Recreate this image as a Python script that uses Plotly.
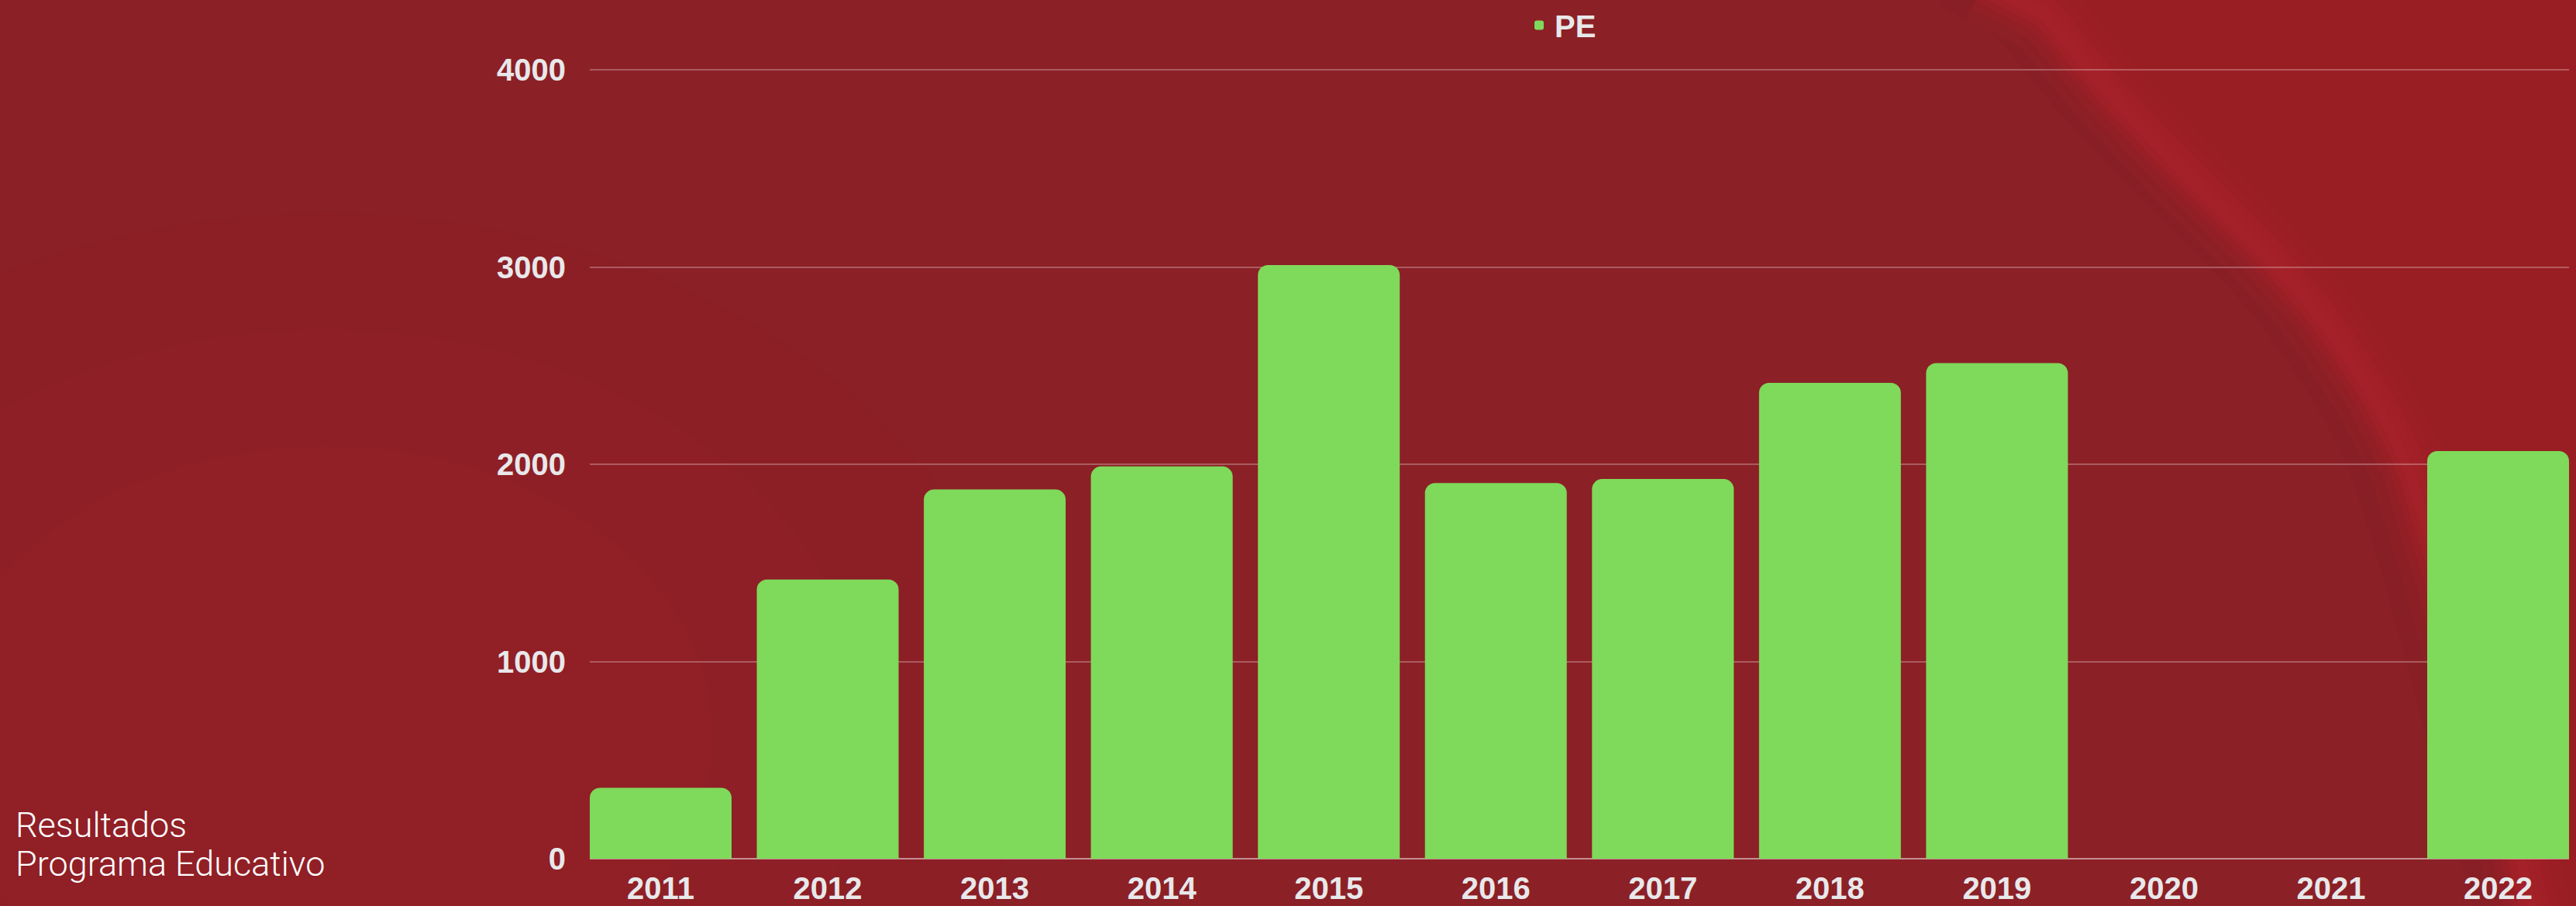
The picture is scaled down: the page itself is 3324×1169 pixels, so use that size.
import plotly.graph_objects as go

# ---------------- data ----------------
years = ["2011", "2012", "2013", "2014", "2015", "2016",
         "2017", "2018", "2019", "2020", "2021", "2022"]
pe_values = [360, 1416, 1872, 1989, 3010, 1905,
             1925, 2413, 2513, None, None, 2067]
y_ticks = [0, 1000, 2000, 3000, 4000]
series_name = "PE"
side_text = ["Resultados", "Programa Educativo"]

# ---------------- geometry helpers ----------------
W, H = 3324, 1169
ML, MR, MT, MB = 761, 9, 88, 61
PW, PH = W - ML - MR, H - MT - MB
BARGAP = 0.151
YMAX = 4008


def px(x, y):
    """pixel -> paper coordinates"""
    return (x - ML) / PW, (H - MB - y) / PH


def path_from(points, close=True):
    parts = []
    for i, (x, y) in enumerate(points):
        X, Y = px(x, y)
        parts.append(("M" if i == 0 else "L") + f"{X:.5f},{Y:.5f}")
    return " ".join(parts) + (" Z" if close else "")


# streak centre line (pixel coords)
streak = [(2560, -20), (2640, 22), (2720, 120), (2804, 209), (2870, 275),
          (2930, 336), (2980, 392), (3020, 447), (3055, 500), (3087, 559),
          (3110, 610), (3124, 656), (3150, 740), (3180, 850), (3215, 980),
          (3250, 1100), (3270, 1190)]

shapes = []
# subtle glow bottom-left
for r, op in [(900, 0.10), (700, 0.12), (500, 0.14), (300, 0.12)]:
    x0, y0 = px(420 - r, 950 - r * 0.75)
    x1, y1 = px(420 + r, 950 + r * 0.75)
    shapes.append(dict(type="circle", xref="paper", yref="paper",
                       x0=x0, x1=x1, y0=y0, y1=y1, layer="below",
                       fillcolor="#9C2127", opacity=op, line_width=0))
# right region (brighter red)
right_poly = [(x + 10, y) for x, y in streak] + [(3340, 1190), (3340, -20)]
shapes.append(dict(type="path", xref="paper", yref="paper", layer="below",
                   path=path_from(right_poly), fillcolor="#991E23",
                   line_width=0))
# shadow on left edge of the streak
for off, w, op in [(-45, 60, 0.25), (-30, 36, 0.35)]:
    shapes.append(dict(type="path", xref="paper", yref="paper", layer="below",
                       path=path_from([(x + off, y) for x, y in streak], close=False),
                       line=dict(color="#841F27", width=w), opacity=op))
# streak glow and core
for w, op in [(100, 0.15), (70, 0.22), (48, 0.32), (30, 0.45), (14, 0.55)]:
    shapes.append(dict(type="path", xref="paper", yref="paper", layer="below",
                       path=path_from(streak, close=False),
                       line=dict(color="#A9222A", width=w), opacity=op))

fig = go.Figure()
fig.add_trace(go.Bar(
    x=years, y=pe_values, name=series_name,
    marker=dict(color="#7FD95A", cornerradius=13,
                line=dict(width=0)),
    showlegend=True,
))

tick_font = dict(family="Liberation Sans, Arial, sans-serif", size=40,
                 color="#E8E8EA", weight="bold")

ann = []
ax, ay1 = px(18, 1064)
_, ay2 = px(18, 1114)
for txt, yy in zip(side_text, [ay1, ay2]):
    ann.append(dict(text=txt, xref="paper", yref="paper", x=ax, y=yy,
                    xanchor="left", yanchor="middle", showarrow=False,
                    font=dict(family="Roboto, Liberation Sans, sans-serif",
                              size=45, color="#FFFFFF", weight=300)))

fig.update_layout(
    width=W, height=H,
    margin=dict(l=ML, r=MR, t=MT, b=MB, pad=0, autoexpand=False),
    paper_bgcolor="#8B2026",
    plot_bgcolor="rgba(0,0,0,0)",
    bargap=BARGAP,
    shapes=shapes,
    annotations=ann,
    showlegend=True,
    legend=dict(orientation="h", xref="container", yref="container",
                x=1966 / W, y=1.0, xanchor="left", yanchor="top",
                bgcolor="rgba(0,0,0,0)",
                font=dict(family="Liberation Sans, Arial, sans-serif",
                          size=40, color="#E8E8EA", weight="bold")),
    xaxis=dict(type="category", range=[-0.5 + BARGAP / 2, 11.5 - BARGAP / 2],
               showgrid=False, zeroline=False, showline=False,
               ticks="", tickfont=tick_font, ticklabelstandoff=11,
               automargin=False, fixedrange=True),
    yaxis=dict(range=[0, YMAX], tickvals=y_ticks,
               ticktext=[str(v) for v in y_ticks],
               showgrid=True, gridcolor="rgba(255,255,255,0.27)", gridwidth=2,
               zeroline=True, zerolinecolor="rgba(255,255,255,0.5)",
               zerolinewidth=2, showline=False, ticks="",
               tickfont=tick_font, ticklabelstandoff=30,
               automargin=False, fixedrange=True),
)

fig.write_html(
    "out.html",
    config={"displayModeBar": False},
    post_script="document.body.style.margin='0';document.body.style.overflow='hidden';",
)
